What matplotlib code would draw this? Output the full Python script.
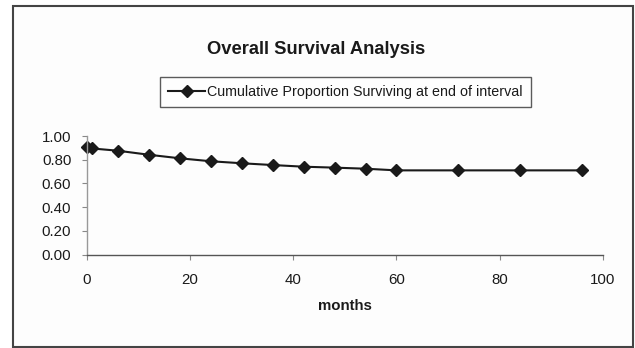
import matplotlib
matplotlib.use("Agg")
import matplotlib.pyplot as plt
from matplotlib.patches import Rectangle

plt.rcParams['font.family'] = ['Liberation Sans', 'DejaVu Sans']

months = [0, 1, 6, 12, 18, 24, 30, 36, 42, 48, 54, 60, 72, 84, 96]
survival = [0.903, 0.895, 0.876, 0.842, 0.812, 0.787, 0.770, 0.755, 0.741, 0.733, 0.724, 0.71, 0.71, 0.71, 0.71]
series_label = "Cumulative Proportion Surviving at end of interval"
title = "Overall Survival Analysis"
xlabel = "months"
xticks = [0, 20, 40, 60, 80, 100]
yticks = [0.0, 0.2, 0.4, 0.6, 0.8, 1.0]

W, H = 635, 348
fig = plt.figure(figsize=(W / 100, H / 100), dpi=100)
fig.patch.set_facecolor('white')

# outer chart border
fig.add_artist(Rectangle((13 / W, 1 - 346.5 / H), (632.5 - 13) / W, (346.5 - 6) / H,
                         transform=fig.transFigure, facecolor='#fdfdfd',
                         edgecolor='#444444', linewidth=1.5, zorder=0))

ax = fig.add_axes([86.7 / W, 1 - 254.5 / H, (603 - 86.7) / W, (254.5 - 136) / H])
ax.patch.set_visible(False)
line, = ax.plot(months, survival, color='#1a1a1a', linewidth=1.5, marker='D',
                markersize=6, markerfacecolor='#1a1a1a', markeredgecolor='#1a1a1a',
                clip_on=False)
ax.set_xlim(0, 100)
ax.set_ylim(0, 1.0)
ax.set_xticks(xticks)
ax.set_yticks(yticks)
ax.set_yticklabels([f"{v:.2f}" for v in yticks])
for s in ['top', 'right']:
    ax.spines[s].set_visible(False)
ax.spines['left'].set_color('#999999')
ax.spines['bottom'].set_color('#555555')
for s in ['left', 'bottom']:
    ax.spines[s].set_linewidth(1.0)
ax.tick_params(axis='both', colors='#888888', labelcolor='#1a1a1a', labelsize=10.8,
               length=3.6, direction='out')
ax.tick_params(axis='x', pad=10)
ax.tick_params(axis='y', pad=7.5)
ax.set_xlabel(xlabel, fontsize=10.8, fontweight='bold', color='#1a1a1a', labelpad=8)

fig.text(316.5 / W, 1 - 49 / H, title, ha='center', va='center', fontsize=13.2,
         fontweight='bold', color='#1a1a1a')

leg = fig.legend([line], [series_label], loc='center', bbox_to_anchor=(345.5 / W, 1 - 91.7 / H),
                 fontsize=10.3, frameon=True, fancybox=False, handlelength=2.6,
                 borderpad=0.55, handletextpad=0.15, borderaxespad=0)
leg.get_frame().set_edgecolor('#333333')
leg.get_frame().set_linewidth(1.0)
leg.get_frame().set_facecolor('white')
for t in leg.get_texts():
    t.set_color('#1a1a1a')

fig.savefig('out.png', dpi=100)
